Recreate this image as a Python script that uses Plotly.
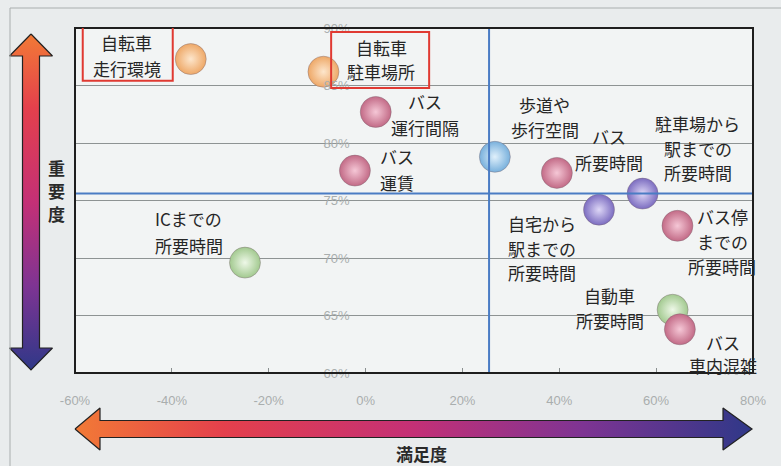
import plotly.graph_objects as go

# ---------------- data ----------------
items = ["自転車走行環境", "自転車駐車場所", "バス運行間隔", "バス運賃", "歩道や歩行空間",
         "バス所要時間", "駐車場から駅までの所要時間", "自宅から駅までの所要時間",
         "バス停までの所要時間", "ICまでの所要時間", "自動車所要時間", "バス車内混雑"]
satisfaction = [-36.1, -8.7, 2.1, -2.2, 26.7, 39.5, 57.2, 48.2, 64.4, -24.9, 63.4, 64.9]   # x, %
importance = [87.3, 86.2, 82.7, 77.6, 78.8, 77.4, 75.6, 74.2, 72.8, 69.6, 65.5, 63.8]      # y, %
group = ["bike", "bike", "bus", "bus", "walk", "bus", "access", "access", "bus", "car", "car", "bus"]
label_lines = [["自転車", "走行環境"], ["自転車", "駐車場所"], ["バス", "運行間隔"], ["バス", "運賃"],
               ["歩道や", "歩行空間"], ["バス", "所要時間"], ["駐車場から", "駅までの", "所要時間"],
               ["自宅から", "駅までの", "所要時間"], ["バス停", "までの", "所要時間"],
               ["ICまでの", "所要時間"], ["自動車", "所要時間"], ["バス", "車内混雑"]]
avg_satisfaction = 25.5
avg_importance = 75.6
x_ticks = [-60, -40, -20, 0, 20, 40, 60, 80]
x_ticktext = ["-60%", "-40%", "-20%", "0%", "20%", "40%", "60%", "80%"]
y_ticks = [60, 65, 70, 75, 80, 85, 90]
y_ticktext = ["60%", "65%", "70%", "75%", "80%", "85%", "90%"]
x_axis_title = "満足度"
y_axis_title = "重要度"

# ---------------- styling ----------------
W, H = 781, 466
PL, PR, PT, PB = 75, 753, 28, 373          # plot area in pixels
XR = [-60, 80]
YR = [60, 90]
# label placement: (dx of line centres, dy of first line (down +), line spacing) in px
label_pos = [(-64, -17, 26), (58, -24, 24), (49, -10, 26), (42, -14, 26), (50, -52, 25),
             (52, -36, 26), (55, -70, 24.5), (-57, 14, 24.5), (45, -9, 25), (-56, -44, 27),
             (-63, -14, 25), (43, 13, 23)]
box_px = {0: (-108, -18, -21.7, 35.3), 1: (7.7, 105.7, -16.3, 39.7)}
ball_colors = {  # edge colour, centre colour
    "bike": ("#eea867", "#fde6cc"),
    "bus": ("#c26a86", "#f5c7d6"),
    "walk": ("#78b0dc", "#e0f0fb"),
    "access": ("#7b6cc0", "#ddd6f6"),
    "car": ("#a2c98f", "#eef8e8"),
}
FONT = "Noto Sans CJK JP"

xdom = [PL / W, PR / W]
ydom = [1 - PB / H, 1 - PT / H]

fig = go.Figure()

# balls (one trace per point so the drawing order is kept)
for i in range(len(items)):
    edge, centre = ball_colors[group[i]]
    fig.add_trace(go.Scatter(
        x=[satisfaction[i]], y=[importance[i]], mode="markers",
        marker=dict(size=31, color=edge, gradient=dict(type="radial", color=centre),
                    line=dict(width=0.8, color="rgba(120,100,110,0.5)")),
        hoverinfo="text", hovertext=items[i], showlegend=False, cliponaxis=False,
        xaxis="x", yaxis="y"))

annotations = []
for i, lines in enumerate(label_lines):
    dx, dy0, sp = label_pos[i]
    for k, line in enumerate(lines):
        annotations.append(dict(
            x=satisfaction[i], y=importance[i], xref="x", yref="y",
            text=line, showarrow=False, xshift=dx, yshift=-(dy0 + k * sp),
            font=dict(family=FONT, size=17, color="#262626"),
            xanchor="center", yanchor="middle"))

# axis titles
for k, ch in enumerate(y_axis_title):
    annotations.append(dict(x=56 / W, y=1 - (167 + k * 23) / H, xref="paper", yref="paper",
                            text="<b>" + ch + "</b>", showarrow=False,
                            font=dict(family=FONT, size=17, color="#2a2a2a"),
                            xanchor="center", yanchor="middle"))
annotations.append(dict(x=422 / W, y=1 - 453 / H, xref="paper", yref="paper",
                        text="<b>" + x_axis_title + "</b>", showarrow=False,
                        font=dict(family=FONT, size=17, color="#2a2a2a"),
                        xanchor="center", yanchor="middle"))

shapes = []
# plot area background
shapes.append(dict(type="rect", xref="x domain", yref="y domain", x0=0, x1=1, y0=0, y1=1,
                   fillcolor="#f2f4f4", line=dict(width=0), layer="below"))
# outer faint frame (top and left edges)
shapes.append(dict(type="line", xref="paper", yref="paper", x0=10 / W, x1=1, y0=1 - 8 / H, y1=1 - 8 / H,
                   line=dict(color="#a9aeae", width=1)))
shapes.append(dict(type="line", xref="paper", yref="paper", x0=10 / W, x1=10 / W, y0=0, y1=1 - 8 / H,
                   line=dict(color="#a9aeae", width=1)))
# average lines
shapes.append(dict(type="line", xref="x", yref="y domain", x0=avg_satisfaction, x1=avg_satisfaction,
                   y0=0, y1=1, line=dict(color="#4a7cc4", width=2), layer="above"))
shapes.append(dict(type="line", xref="x domain", yref="y", x0=0, x1=1, y0=avg_importance,
                   y1=avg_importance, line=dict(color="#4a7cc4", width=2), layer="above"))
# plot frame
shapes.append(dict(type="rect", xref="x domain", yref="y domain", x0=0, x1=1, y0=0, y1=1,
                   line=dict(color="#1e1e1e", width=2), layer="above"))
# red boxes around bicycle labels
for i, (x0, x1, y0, y1) in box_px.items():
    shapes.append(dict(type="rect", xref="x", yref="y", xsizemode="pixel", ysizemode="pixel",
                       xanchor=satisfaction[i], yanchor=importance[i], x0=x0, x1=x1, y0=y0, y1=y1,
                       line=dict(color="#e03a32", width=2), fillcolor="rgba(0,0,0,0)", layer="above"))

# gradient arrows on a full-figure pixel axis
arrow_scale = [[0.0, "#f27a36"], [0.22, "#e4404c"], [0.5, "#c43076"], [0.75, "#7e3493"], [1.0, "#2f3888"]]
arrow_scale_rev = [[1 - p, c] for p, c in reversed(arrow_scale)]
vx, vsh, vhw = 31, 8.5, 21.5
vx_pts = [vx, vx + vhw, vx + vsh, vx + vsh, vx + vhw, vx, vx - vhw, vx - vsh, vx - vsh, vx - vhw, vx]
vy_pts = [34, 56, 56, 348, 348, 370, 348, 348, 56, 56, 34]
fig.add_trace(go.Scatter(x=vx_pts, y=vy_pts, mode="lines", fill="toself",
                         fillgradient=dict(type="vertical", colorscale=arrow_scale_rev),
                         line=dict(color="#222222", width=1.2), hoverinfo="skip",
                         showlegend=False, xaxis="x2", yaxis="y2"))
hy, hsh, hhw = 429, 8.5, 21
hx_pts = [75, 100, 100, 723, 723, 752, 723, 723, 100, 100, 75]
hy_pts = [hy, hy - hhw, hy - hsh, hy - hsh, hy - hhw, hy, hy + hhw, hy + hsh, hy + hsh, hy + hhw, hy]
fig.add_trace(go.Scatter(x=hx_pts, y=hy_pts, mode="lines", fill="toself",
                         fillgradient=dict(type="horizontal", colorscale=arrow_scale),
                         line=dict(color="#222222", width=1.2), hoverinfo="skip",
                         showlegend=False, xaxis="x2", yaxis="y2"))

ypos = xdom[0] + (0 - XR[0]) / (XR[1] - XR[0]) * (xdom[1] - xdom[0])

fig.update_layout(
    width=W, height=H, margin=dict(l=0, r=0, t=0, b=0, pad=0, autoexpand=False),
    paper_bgcolor="#e9eced", plot_bgcolor="rgba(0,0,0,0)",
    xaxis=dict(domain=xdom, range=XR, tickvals=x_ticks, ticktext=x_ticktext,
               showgrid=False, zeroline=False, ticks="inside", ticklen=5, tickcolor="#8a8f8f",
               tickfont=dict(family="Liberation Sans", size=13, color="#a9aeae"),
               ticklabelstandoff=18, showline=False, anchor="y", automargin=False),
    yaxis=dict(domain=ydom, range=YR, tickvals=y_ticks, ticktext=y_ticktext,
               showgrid=True, gridcolor="#8e9393", gridwidth=1, zeroline=False, ticks="",
               tickfont=dict(family="Liberation Sans", size=13, color="#a9aeae"),
               anchor="free", position=ypos, ticklabelstandoff=16, showline=False,
               automargin=False),
    xaxis2=dict(domain=[0, 1], range=[0, W], visible=False, anchor="y2", fixedrange=True),
    yaxis2=dict(domain=[0, 1], range=[H, 0], visible=False, anchor="x2", fixedrange=True),
    annotations=annotations, shapes=shapes,
)

fig.write_html("out.html")
